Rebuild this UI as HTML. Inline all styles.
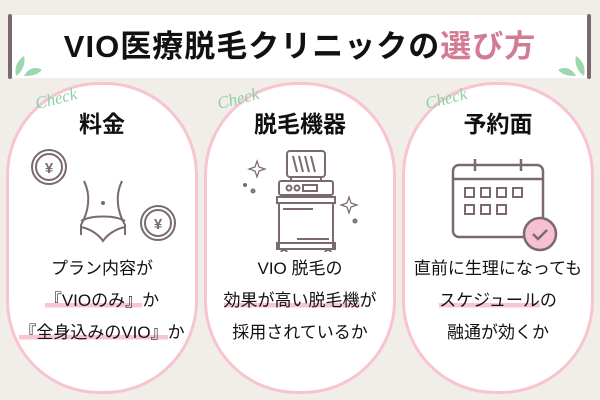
<!DOCTYPE html>
<html><head><meta charset="utf-8"><style>
body{margin:0;width:600px;height:400px;background:#f1eeea;position:relative;overflow:hidden;font-family:"Liberation Sans","Noto Sans CJK JP",sans-serif}
.banner{position:absolute;left:10px;top:15px;width:578px;height:63px;background:#fff}
.bar{position:absolute;top:14px;width:4px;height:65px;background:#7a6a6f;border-radius:2px}
.title{position:absolute;left:0;width:600px;top:21px;text-align:center;font-size:31px;font-weight:bold;color:#111;letter-spacing:1px;white-space:nowrap}
.title .p{color:#d27b94;position:relative}
.title .p:after{content:"";position:absolute;left:-2px;right:-4px;bottom:4px;height:8px;background:#f8c6d3;z-index:-1}
.card{position:absolute;top:82px;width:186px;height:306px;border:3px solid #f7c4d0;border-radius:93px;background:#fff}
.h{position:absolute;left:0;right:0;top:20px;text-align:center;font-size:23px;font-weight:bold;color:#111}
.chk{position:absolute;top:4px;font-family:"Liberation Serif",serif;font-style:italic;color:#8cd0a6;font-size:17px;transform:rotate(-14deg)}
.t{position:absolute;left:-10px;right:-10px;text-align:center;font-size:17px;color:#111;line-height:32px;top:168px;white-space:nowrap}
.hl{background:linear-gradient(transparent 62%,#f8c6d3 62%,#f8c6d3 88%,transparent 88%)}
svg{position:absolute}
</style></head><body>
<div class="banner"></div>
<div class="bar" style="left:8px"></div><div class="bar" style="left:587px"></div>
<svg style="left:12px;top:48px" width="30" height="30"><path d="M4 28 C2 18 6 12 12 8 C14 16 10 24 4 28Z" fill="#9bd7ae"/><path d="M12 28 C16 20 24 18 30 22 C24 28 18 28 12 28Z" fill="#9bd7ae"/></svg>
<svg style="left:558px;top:48px" width="30" height="30"><path d="M26 28 C28 18 24 12 18 8 C16 16 20 24 26 28Z" fill="#9bd7ae"/><path d="M18 28 C14 20 6 18 0 22 C6 28 12 28 18 28Z" fill="#9bd7ae"/></svg>
<div class="title">VIO医療脱毛クリニックの<span class="p">選び方</span></div>

<div class="card" style="left:6px">
<div class="chk" style="left:26px">Check</div>
<div class="h">料金</div>
<svg style="left:20px;top:60px" width="150" height="100" fill="none" stroke="#7a6a6f" stroke-width="2">
<circle cx="20" cy="22" r="17"/><circle cx="20" cy="22" r="13"/><text x="20" y="28" font-size="15" fill="#7a6a6f" stroke="none" text-anchor="middle" font-weight="bold">¥</text>
<circle cx="129" cy="78" r="17"/><circle cx="129" cy="78" r="13"/><text x="129" y="84" font-size="15" fill="#7a6a6f" stroke="none" text-anchor="middle" font-weight="bold">¥</text>
<path d="M55 36 C62 50 60 66 52 80 L52 90"/><path d="M93 36 C86 50 88 66 96 80 L96 90"/>
<path d="M52 76 C62 70 86 70 96 76"/><path d="M52 82 C62 84 70 90 74 96 C78 90 86 84 96 82"/>
<circle cx="74" cy="58" r="1"/></svg>
<div class="t">プラン内容が<br><span class="hl">『VIOのみ』</span>か<br><span class="hl">『全身込みのVIO』</span>か</div>
</div>

<div class="card" style="left:204px">
<div class="chk" style="left:10px">Check</div>
<div class="h">脱毛機器</div>
<svg style="left:30px;top:62px" width="130" height="105" fill="none" stroke="#7a6a6f" stroke-width="2">
<rect x="50" y="4" width="38" height="26" rx="3"/><path d="M56 9l4 16M62 9l4 16M68 9l4 16M74 9l4 16"/>
<path d="M54 30v4M84 30v4"/>
<rect x="42" y="34" width="54" height="14" rx="2"/><circle cx="52" cy="41" r="2.5"/><circle cx="60" cy="41" r="2.5"/><rect x="66" y="38" width="14" height="6"/>
<rect x="40" y="50" width="58" height="6"/>
<rect x="42" y="56" width="54" height="46"/><path d="M46 62h30M60 92h32"/>
<rect x="40" y="96" width="58" height="6"/>
<circle cx="47" cy="106" r="3"/><circle cx="91" cy="106" r="3"/>
<path d="M20 14 l2 6 6 2 -6 2 -2 6 -2 -6 -6 -2 6 -2z" stroke-width="1.2"/>
<path d="M112 50 l2 6 6 2 -6 2 -2 6 -2 -6 -6 -2 6 -2z" stroke-width="1.2"/>
<circle cx="8" cy="38" r="1"/><circle cx="16" cy="44" r="1.5"/><circle cx="118" cy="74" r="1.5"/></svg>
<div class="t">VIO 脱毛の<br><span class="hl">効果が高い脱毛機</span>が<br>採用されているか</div>
</div>

<div class="card" style="left:402px">
<div class="chk" style="left:20px">Check</div>
<div class="h">予約面</div>
<svg style="left:36px;top:70px" width="124" height="100" fill="none" stroke="#7a6a6f" stroke-width="2.5">
<rect x="12" y="10" width="90" height="72" rx="6"/><path d="M12 24h90M34 4v12M80 4v12"/>
<g stroke-width="2"><rect x="24" y="33" width="9" height="9"/><rect x="40" y="33" width="9" height="9"/><rect x="56" y="33" width="9" height="9"/><rect x="72" y="33" width="9" height="9"/>
<rect x="24" y="50" width="9" height="9"/><rect x="40" y="50" width="9" height="9"/><rect x="56" y="50" width="9" height="9"/></g>
<circle cx="99" cy="79" r="16" fill="#f6c0d2"/><path d="M92 79l5 5 9-9"/></svg>
<div class="t">直前に生理になっても<br><span class="hl">スケジュール</span>の<br>融通が効くか</div>
</div>
</body></html>
